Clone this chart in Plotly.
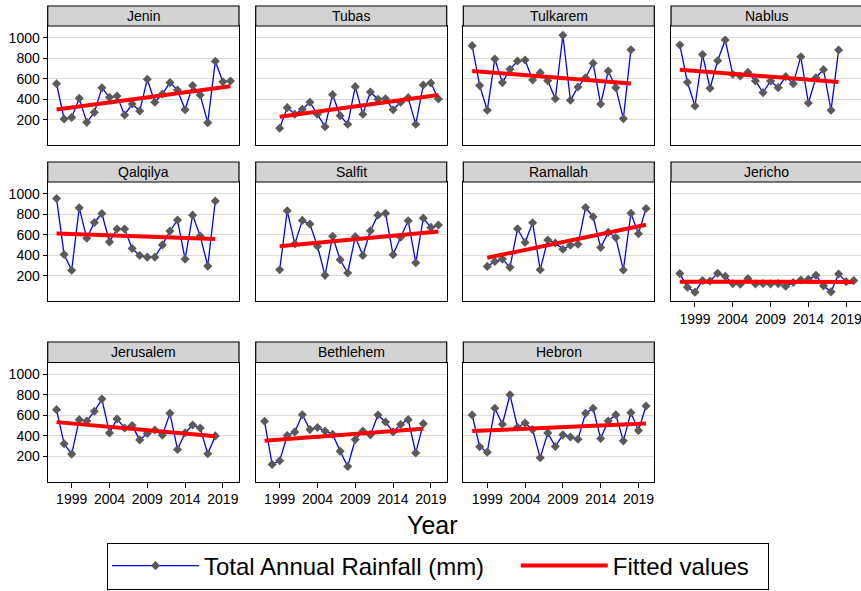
import numpy as np
import plotly.graph_objects as go

# Years covered by each station record
years_1997_2020 = list(range(1997, 2021))
years_1997_2018 = list(range(1997, 2019))
years_1999_2020 = list(range(1999, 2021))

# Total annual rainfall (mm) per district
jenin = [552, 210, 225, 410, 177, 274, 512, 420, 433, 249, 355, 287, 595, 372,
         452, 563, 491, 300, 534, 443, 174, 770, 572, 579]
tubas = [119, 320, 255, 304, 372, 255, 135, 446, 242, 158, 524, 255, 472, 401,
         407, 300, 372, 417, 158, 540, 560, 404]
tulkarem = [922, 534, 294, 793, 563, 692, 773, 783, 589, 660, 582, 407, 1023,
            391, 521, 611, 751, 355, 676, 514, 213, 883]
nablus = [929, 566, 336, 835, 508, 776, 977, 644, 628, 663, 579, 466, 579, 514,
          621, 553, 815, 365, 611, 689, 294, 880]
qalqilya = [952, 409, 255, 862, 566, 720, 807, 531, 656, 656, 467, 399, 383,
            383, 502, 637, 743, 364, 791, 589, 296, 929]
salfit = [261, 833, 512, 740, 704, 489, 206, 586, 357, 229, 582, 399, 640, 791,
          810, 406, 576, 737, 329, 762, 672, 695]
ramallah = [293, 341, 364, 284, 659, 525, 717, 261, 550, 521, 460, 499, 508,
            865, 775, 476, 624, 573, 258, 810, 611, 855]
jericho = [223, 91, 43, 155, 152, 226, 197, 126, 120, 174, 123, 126, 123, 126,
           100, 136, 161, 168, 206, 104, 46, 219, 145, 155]
jerusalem = [655, 323, 223, 558, 545, 639, 758, 429, 565, 477, 500, 361, 423,
             458, 406, 619, 268, 429, 506, 477, 226, 400]
bethlehem = [542, 123, 158, 403, 439, 606, 461, 481, 448, 416, 252, 103, 365,
             448, 410, 603, 535, 439, 510, 558, 235, 519]
hebron = [603, 294, 242, 668, 513, 800, 484, 526, 461, 187, 429, 297, 410, 390,
          368, 619, 668, 374, 545, 606, 352, 626, 452, 690]

districts = ["Jenin", "Tubas", "Tulkarem", "Nablus", "Qalqilya", "Salfit",
             "Ramallah", "Jericho", "Jerusalem", "Bethlehem", "Hebron"]
series_years = [years_1997_2020, years_1999_2020, years_1997_2018, years_1997_2018,
                years_1997_2018, years_1999_2020, years_1999_2020, years_1997_2020,
                years_1997_2018, years_1997_2018, years_1997_2020]
series_values = [jenin, tubas, tulkarem, nablus, qalqilya, salfit, ramallah,
                 jericho, jerusalem, bethlehem, hebron]

x_ticks = [1999, 2004, 2009, 2014, 2019]
y_ticks = [200, 400, 600, 800, 1000]

# Page geometry (pixels)
W, H = 861, 591
col_px = [(47.7, 239.0), (255.7, 446.7), (463.3, 654.3), (671.0, 862.0)]
row_px = [(26.0, 145.0), (182.0, 301.0), (362.5, 481.5)]
strip_px = [(6.0, 26.0), (162.0, 182.0), (342.0, 362.5)]
PX_PER_YEAR = 7.56
X_START = 1995.83
Y_RANGE = [-43, 1113]

FONT = "Liberation Sans, Arial, sans-serif"
bottom_panels = {7, 8, 9, 10}
NBSP = "\u00a0"

fig = go.Figure()
layout = {}
shapes = []
annotations = []

for k, (name, yrs, vals) in enumerate(zip(districts, series_years, series_values)):
    r, c = divmod(k, 4)
    left, right = col_px[c]
    top, bottom = row_px[r]
    right_clip = min(right, W)
    ax = "" if k == 0 else str(k + 1)

    fig.add_trace(go.Scatter(
        x=yrs, y=vals, mode="lines+markers",
        xaxis="x" + ax, yaxis="y" + ax,
        line=dict(color="#0000ff", width=1.3),
        marker=dict(symbol="diamond", size=7, color="#5a5a5a"),
        name="Total Annual Rainfall (mm)" + NBSP * 4, legendgroup="rain",
        showlegend=(k == 0),
    ))
    slope, intercept = np.polyfit(yrs, vals, 1)
    fitted = [slope * y + intercept for y in yrs]
    fig.add_trace(go.Scatter(
        x=yrs, y=fitted, mode="lines",
        xaxis="x" + ax, yaxis="y" + ax,
        line=dict(color="#ff0000", width=4),
        name="Fitted values" + NBSP * 2, legendgroup="fit",
        showlegend=(k == 0),
    ))

    is_bottom = k in bottom_panels
    layout["xaxis" + ax] = dict(
        domain=[left / W, right_clip / W],
        range=[X_START, X_START + (right_clip - left) / PX_PER_YEAR],
        anchor="y" + ax,
        showline=True, linecolor="black", linewidth=1.3, mirror=True,
        showgrid=False, zeroline=False,
        tickvals=x_ticks,
        ticks="outside" if is_bottom else "",
        ticklen=5, tickcolor="black", tickwidth=1.2,
        showticklabels=is_bottom,
        ticklabeloverflow="allow",
        tickfont=dict(family=FONT, size=14, color="black"),
    )
    layout["yaxis" + ax] = dict(
        domain=[1 - bottom / H, 1 - top / H],
        range=Y_RANGE,
        anchor="x" + ax,
        showline=True, linecolor="black", linewidth=1.3,
        mirror=(c != 3),
        showgrid=True, gridcolor="#dcdcdc", gridwidth=1.3,
        zeroline=False,
        tickvals=y_ticks,
        ticks="outside" if c == 0 else "",
        ticklen=4, tickcolor="black", tickwidth=1.2,
        showticklabels=(c == 0),
        tickfont=dict(family=FONT, size=14, color="black"),
    )

    # grey title strip above each panel
    s_top, s_bot = strip_px[r]
    shapes.append(dict(
        type="rect", xref="paper", yref="paper",
        x0=left / W, x1=right / W, y0=1 - s_bot / H, y1=1 - s_top / H,
        fillcolor="#d3d3d3", line=dict(color="black", width=1.2), layer="above",
    ))
    annotations.append(dict(
        text=name, xref="paper", yref="paper",
        x=(left + right) / 2 / W,
        y=1 - (s_top + s_bot) / 2 / H,
        xanchor="center", yanchor="middle", showarrow=False,
        font=dict(family=FONT, size=14, color="black"),
    ))

annotations.append(dict(
    text="Year", xref="paper", yref="paper",
    x=432 / W, y=1 - 525 / H, xanchor="center", yanchor="middle",
    showarrow=False, font=dict(family=FONT, size=25, color="black"),
))

fig.update_layout(
    width=W, height=H,
    margin=dict(l=0, r=0, t=0, b=0, autoexpand=False),
    paper_bgcolor="white", plot_bgcolor="white",
    font=dict(family=FONT, color="black"),
    shapes=shapes, annotations=annotations,
    legend=dict(
        orientation="h", x=438 / W, xanchor="center",
        y=1 - 566 / H, yanchor="middle",
        bordercolor="black", borderwidth=1, bgcolor="white",
        font=dict(family=FONT, size=24, color="black"),
        itemwidth=87, tracegroupgap=0,
    ),
    **layout,
)

fig.write_html("out.html")
